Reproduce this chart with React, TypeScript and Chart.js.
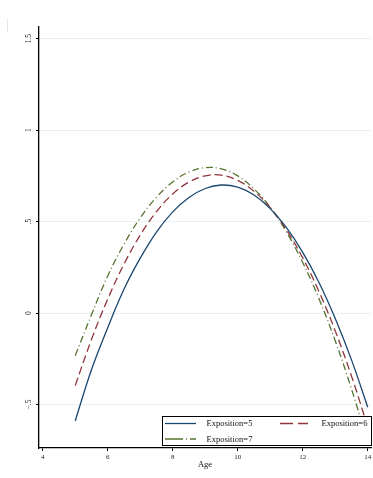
import React, { useEffect, useRef } from "react";
import { Chart, registerables } from "chart.js";

Chart.register(...registerables);

const ages = [5, 5.5, 6, 6.5, 7, 7.5, 8, 8.5, 9, 9.5, 10, 10.5, 11, 11.5, 12, 12.5, 13, 13.5, 14];
const exposition5 = [-0.59, -0.31, -0.08, 0.13, 0.3, 0.443, 0.553, 0.632, 0.681, 0.7, 0.688, 0.645, 0.571, 0.467, 0.332, 0.167, -0.03, -0.256, -0.515];
const exposition6 = [-0.397, -0.145, 0.076, 0.267, 0.426, 0.554, 0.651, 0.716, 0.75, 0.754, 0.725, 0.666, 0.576, 0.454, 0.301, 0.117, -0.098, -0.345, -0.622];
const exposition7 = [-0.233, -0.01, 0.203, 0.376, 0.52, 0.633, 0.717, 0.771, 0.795, 0.788, 0.75, 0.679, 0.577, 0.443, 0.276, 0.078, -0.152, -0.415, -0.709];
const seriesLabels = ["Exposition=5", "Exposition=6", "Exposition=7"];
const seriesColors = ["#1a476f", "#90353b", "#55752f"];
const xTicks = [4, 6, 8, 10, 12, 14];
const yTicks = [-0.5, 0, 0.5, 1, 1.5];
const yTickLabels = ["\u2212.5", "0", ".5", "1", "1.5"];
const xTitle = "Age";

const FONT = "'Liberation Serif', 'DejaVu Serif', serif";

const lineDashes: number[][] = [[], [8, 4], [7, 3, 1, 3]];
const legendDashes: number[][] = [[], [13, 5], [18, 3, 1, 3]];

const overlayPlugin = {
  id: "stataOverlay",
  afterDraw(chart: any) {
    const { ctx, chartArea } = chart;
    const yScale = chart.scales.y;
    ctx.save();
    // rotated y tick labels
    ctx.fillStyle = "#222";
    ctx.font = `7.5px ${FONT}`;
    ctx.textAlign = "center";
    ctx.textBaseline = "middle";
    yTicks.forEach((v, i) => {
      const py = yScale.getPixelForValue(v);
      ctx.save();
      ctx.translate(chartArea.left - 10, py);
      ctx.rotate(-Math.PI / 2);
      ctx.fillText(yTickLabels[i], 0, 0);
      ctx.restore();
    });
    // faint edge mark at top-left
    ctx.strokeStyle = "#e4e4e4";
    ctx.lineWidth = 1;
    ctx.beginPath();
    ctx.moveTo(7.5, 19);
    ctx.lineTo(7.5, 32);
    ctx.stroke();

    // legend box
    const right = chartArea.right + 1;
    const bottom = chartArea.bottom - 2;
    const left = chartArea.left + 123;
    const top = bottom - 30;
    ctx.fillStyle = "#fff";
    ctx.fillRect(left, top, right - left, bottom - top);
    ctx.strokeStyle = "#000";
    ctx.lineWidth = 1;
    ctx.strokeRect(left + 0.5, top + 0.5, right - left - 1, bottom - top - 1);

    const rows = [top + 7.5, top + 23];
    const cols = [left + 3, left + 118];
    const positions = [
      [cols[0], rows[0]],
      [cols[1], rows[0]],
      [cols[0], rows[1]],
    ];
    ctx.font = `8.5px ${FONT}`;
    ctx.textAlign = "left";
    ctx.textBaseline = "middle";
    chart.data.datasets.forEach((ds: any, i: number) => {
      const [sx, sy] = positions[i];
      const sampleLen = i === 1 ? 28 : 31;
      ctx.save();
      ctx.strokeStyle = ds.borderColor;
      ctx.lineWidth = 1.3;
      ctx.setLineDash(legendDashes[i]);
      ctx.beginPath();
      ctx.moveTo(sx, sy);
      ctx.lineTo(sx + sampleLen, sy);
      ctx.stroke();
      ctx.restore();
      ctx.fillStyle = "#111";
      ctx.fillText(ds.label, sx + (i === 1 ? 41.5 : 41.5), sy + 0.5);
    });
    ctx.restore();
  },
};

export default function App() {
  const canvasRef = useRef<HTMLCanvasElement | null>(null);

  useEffect(() => {
    const canvas = canvasRef.current;
    if (!canvas) return;
    const seriesValues = [exposition5, exposition6, exposition7];
    const chart = new Chart(canvas, {
      type: "line",
      data: {
        datasets: seriesValues.map((vals, i) => ({
          label: seriesLabels[i],
          data: ages.map((a, j) => ({ x: a, y: vals[j] })),
          borderColor: seriesColors[i],
          borderWidth: 1.3,
          borderDash: lineDashes[i],
          pointRadius: 0,
          fill: false,
          tension: 0.4,
        })),
      },
      options: {
        animation: false,
        responsive: false,
        devicePixelRatio: 1,
        layout: { padding: { top: 27, right: 2, left: 0, bottom: 0 } },
        plugins: {
          legend: { display: false },
          tooltip: { enabled: false },
        },
        scales: {
          x: {
            type: "linear",
            min: 3.886,
            max: 14.1,
            afterBuildTicks: (s: any) => {
              s.ticks = xTicks.map((v) => ({ value: v }));
            },
            afterFit: (s: any) => {
              s.height = 30;
              s.paddingLeft = 0;
              s.paddingRight = 0;
            },
            ticks: {
              callback: (v: any) => String(v),
              font: { family: FONT, size: 7 },
              color: "#222",
              padding: 2,
              maxRotation: 0,
              autoSkip: false,
            },
            grid: {
              drawOnChartArea: false,
              drawTicks: true,
              tickLength: 3,
              tickColor: "#000",
              tickWidth: 1,
            },
            border: { color: "#000", width: 1.3 },
            title: {
              display: true,
              text: xTitle,
              font: { family: FONT, size: 8.5 },
              color: "#111",
              padding: { top: 0, bottom: 8 },
            },
          },
          y: {
            type: "linear",
            min: -0.738,
            max: 1.564,
            afterBuildTicks: (s: any) => {
              s.ticks = yTicks.map((v) => ({ value: v }));
            },
            afterFit: (s: any) => {
              s.width = 39;
            },
            ticks: { display: false },
            grid: {
              color: "#e8f0f1",
              lineWidth: 1,
              drawTicks: true,
              tickLength: 3,
              tickColor: "#000",
              tickWidth: 1,
            },
            border: { color: "#000", width: 1.3 },
          },
        },
      },
      plugins: [overlayPlugin],
    });
    return () => chart.destroy();
  }, []);

  return (
    <div style={{ position: "fixed", left: 0, top: 0, width: 373, height: 478, background: "#fff" }}>
      <canvas ref={canvasRef} width={373} height={478} style={{ display: "block" }} />
    </div>
  );
}
